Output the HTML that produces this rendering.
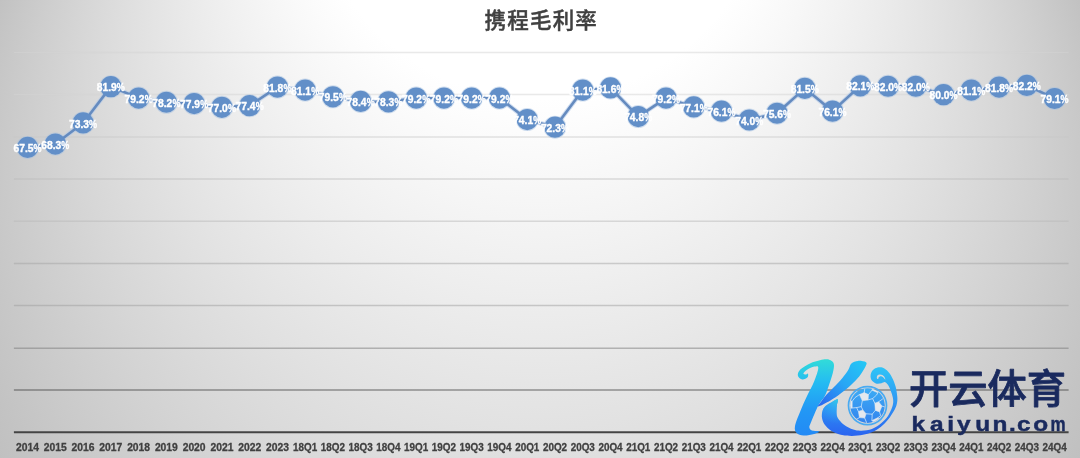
<!DOCTYPE html>
<html lang="zh-CN"><head><meta charset="utf-8"><title>携程毛利率</title>
<style>
html,body{margin:0;padding:0;background:#e6e6e6;}
body{width:1080px;height:458px;overflow:hidden;position:relative;font-family:"Liberation Sans","Noto Sans CJK SC",sans-serif;}
#chart{position:absolute;left:0;top:0;width:1080px;height:458px;display:block;}
</style></head><body>
<svg id="chart" width="1080" height="458" viewBox="0 0 1080 458">
<defs>
<radialGradient id="bg" gradientUnits="userSpaceOnUse" cx="540" cy="229" r="595.4" fx="540" fy="-365.8">
<stop offset="0" stop-color="#ffffff"/>
<stop offset="0.39" stop-color="#ffffff"/>
<stop offset="1" stop-color="#bfbfbf"/>
</radialGradient>
<linearGradient id="kg1" gradientUnits="userSpaceOnUse" x1="0" y1="359" x2="0" y2="436">
<stop offset="0" stop-color="#32dcd8"/><stop offset="0.3" stop-color="#24bcf2"/><stop offset="0.65" stop-color="#2298f5"/><stop offset="1" stop-color="#238af5"/>
</linearGradient>
<linearGradient id="kg2" gradientUnits="userSpaceOnUse" x1="862" y1="361" x2="822" y2="404">
<stop offset="0" stop-color="#24c6f5"/><stop offset="0.5" stop-color="#28a6f5"/><stop offset="1" stop-color="#2b6cf0"/>
</linearGradient>
<linearGradient id="kg3" gradientUnits="userSpaceOnUse" x1="0" y1="367" x2="0" y2="437">
<stop offset="0" stop-color="#2fc4f6"/><stop offset="0.45" stop-color="#2f9cf4"/><stop offset="1" stop-color="#2a62f0"/>
</linearGradient>
<radialGradient id="kg4" gradientUnits="userSpaceOnUse" cx="838" cy="398" r="26">
<stop offset="0" stop-color="#34d0e4" stop-opacity="1"/><stop offset="0.45" stop-color="#30b0f4" stop-opacity="0.7"/><stop offset="1" stop-color="#2f9cf4" stop-opacity="0"/>
</radialGradient>
<linearGradient id="kb" gradientUnits="userSpaceOnUse" x1="0" y1="388" x2="0" y2="423">
<stop offset="0" stop-color="#3cacf5"/><stop offset="1" stop-color="#3384ee"/>
</linearGradient>
<clipPath id="ballclip"><circle cx="867.5" cy="405.6" r="17.3"/></clipPath>
</defs>
<rect x="0" y="0" width="1080" height="458" fill="url(#bg)"/>
<g id="grid" fill="none" stroke-width="1.5" stroke-opacity="0.5">
<line x1="13.9" y1="52.50" x2="1068.6" y2="52.50" stroke="#d4d4d4"/>
<line x1="13.9" y1="94.50" x2="1068.6" y2="94.50" stroke="#d3d3d3"/>
<line x1="13.9" y1="136.90" x2="1068.6" y2="136.90" stroke="#c8c8c8"/>
<line x1="13.9" y1="179.05" x2="1068.6" y2="179.05" stroke="#bcbcbc"/>
<line x1="13.9" y1="221.35" x2="1068.6" y2="221.35" stroke="#bababa"/>
<line x1="13.9" y1="263.45" x2="1068.6" y2="263.45" stroke="#a3a3a3"/>
<line x1="13.9" y1="305.60" x2="1068.6" y2="305.60" stroke="#9d9d9d"/>
<line x1="13.9" y1="348.25" x2="1068.6" y2="348.25" stroke="#7a7a7a"/>
<line x1="13.9" y1="390.00" x2="1068.6" y2="390.00" stroke="#383838"/>
</g>
<line x1="13.9" y1="432.25" x2="1068.6" y2="432.25" stroke="#444444" stroke-width="2.2"/>
<text x="541.3" y="28.2" text-anchor="middle" font-family="'Liberation Sans','Noto Sans CJK SC',sans-serif" font-size="21.5" font-weight="500" letter-spacing="1.2" fill="#404040" stroke="#404040" stroke-width="0.45">携程毛利率</text>
<polyline points="27.60,147.42 55.36,144.04 83.11,122.95 110.87,86.66 138.63,98.06 166.38,102.27 194.14,103.54 221.90,107.34 249.66,105.65 277.41,87.09 305.17,90.04 332.93,96.79 360.68,101.43 388.44,101.85 416.20,98.06 443.96,98.06 471.71,98.06 499.47,98.06 527.23,119.57 554.98,127.17 582.74,90.04 610.50,87.93 638.25,116.62 666.01,98.06 693.77,106.92 721.53,111.13 749.28,119.99 777.04,113.24 804.80,88.35 832.55,111.13 860.31,85.82 888.07,86.24 915.82,86.24 943.58,94.68 971.34,90.04 999.10,87.09 1026.85,85.40 1054.61,98.48" fill="none" stroke="#b0c8e8" stroke-opacity="0.6" stroke-width="4.6" stroke-linejoin="round" stroke-linecap="round"/>
<g fill="#a4bfe2" fill-opacity="0.5">
<circle cx="27.60" cy="147.42" r="11.5"/>
<circle cx="55.36" cy="144.04" r="11.5"/>
<circle cx="83.11" cy="122.95" r="11.5"/>
<circle cx="110.87" cy="86.66" r="11.5"/>
<circle cx="138.63" cy="98.06" r="11.5"/>
<circle cx="166.38" cy="102.27" r="11.5"/>
<circle cx="194.14" cy="103.54" r="11.5"/>
<circle cx="221.90" cy="107.34" r="11.5"/>
<circle cx="249.66" cy="105.65" r="11.5"/>
<circle cx="277.41" cy="87.09" r="11.5"/>
<circle cx="305.17" cy="90.04" r="11.5"/>
<circle cx="332.93" cy="96.79" r="11.5"/>
<circle cx="360.68" cy="101.43" r="11.5"/>
<circle cx="388.44" cy="101.85" r="11.5"/>
<circle cx="416.20" cy="98.06" r="11.5"/>
<circle cx="443.96" cy="98.06" r="11.5"/>
<circle cx="471.71" cy="98.06" r="11.5"/>
<circle cx="499.47" cy="98.06" r="11.5"/>
<circle cx="527.23" cy="119.57" r="11.5"/>
<circle cx="554.98" cy="127.17" r="11.5"/>
<circle cx="582.74" cy="90.04" r="11.5"/>
<circle cx="610.50" cy="87.93" r="11.5"/>
<circle cx="638.25" cy="116.62" r="11.5"/>
<circle cx="666.01" cy="98.06" r="11.5"/>
<circle cx="693.77" cy="106.92" r="11.5"/>
<circle cx="721.53" cy="111.13" r="11.5"/>
<circle cx="749.28" cy="119.99" r="11.5"/>
<circle cx="777.04" cy="113.24" r="11.5"/>
<circle cx="804.80" cy="88.35" r="11.5"/>
<circle cx="832.55" cy="111.13" r="11.5"/>
<circle cx="860.31" cy="85.82" r="11.5"/>
<circle cx="888.07" cy="86.24" r="11.5"/>
<circle cx="915.82" cy="86.24" r="11.5"/>
<circle cx="943.58" cy="94.68" r="11.5"/>
<circle cx="971.34" cy="90.04" r="11.5"/>
<circle cx="999.10" cy="87.09" r="11.5"/>
<circle cx="1026.85" cy="85.40" r="11.5"/>
<circle cx="1054.61" cy="98.48" r="11.5"/>
</g>
<polyline points="27.60,147.42 55.36,144.04 83.11,122.95 110.87,86.66 138.63,98.06 166.38,102.27 194.14,103.54 221.90,107.34 249.66,105.65 277.41,87.09 305.17,90.04 332.93,96.79 360.68,101.43 388.44,101.85 416.20,98.06 443.96,98.06 471.71,98.06 499.47,98.06 527.23,119.57 554.98,127.17 582.74,90.04 610.50,87.93 638.25,116.62 666.01,98.06 693.77,106.92 721.53,111.13 749.28,119.99 777.04,113.24 804.80,88.35 832.55,111.13 860.31,85.82 888.07,86.24 915.82,86.24 943.58,94.68 971.34,90.04 999.10,87.09 1026.85,85.40 1054.61,98.48" fill="none" stroke="#658bbf" stroke-width="2.6" stroke-linejoin="round" stroke-linecap="round"/>
<g fill="#628fc8">
<circle cx="27.60" cy="147.42" r="10.6"/>
<circle cx="55.36" cy="144.04" r="10.6"/>
<circle cx="83.11" cy="122.95" r="10.6"/>
<circle cx="110.87" cy="86.66" r="10.6"/>
<circle cx="138.63" cy="98.06" r="10.6"/>
<circle cx="166.38" cy="102.27" r="10.6"/>
<circle cx="194.14" cy="103.54" r="10.6"/>
<circle cx="221.90" cy="107.34" r="10.6"/>
<circle cx="249.66" cy="105.65" r="10.6"/>
<circle cx="277.41" cy="87.09" r="10.6"/>
<circle cx="305.17" cy="90.04" r="10.6"/>
<circle cx="332.93" cy="96.79" r="10.6"/>
<circle cx="360.68" cy="101.43" r="10.6"/>
<circle cx="388.44" cy="101.85" r="10.6"/>
<circle cx="416.20" cy="98.06" r="10.6"/>
<circle cx="443.96" cy="98.06" r="10.6"/>
<circle cx="471.71" cy="98.06" r="10.6"/>
<circle cx="499.47" cy="98.06" r="10.6"/>
<circle cx="527.23" cy="119.57" r="10.6"/>
<circle cx="554.98" cy="127.17" r="10.6"/>
<circle cx="582.74" cy="90.04" r="10.6"/>
<circle cx="610.50" cy="87.93" r="10.6"/>
<circle cx="638.25" cy="116.62" r="10.6"/>
<circle cx="666.01" cy="98.06" r="10.6"/>
<circle cx="693.77" cy="106.92" r="10.6"/>
<circle cx="721.53" cy="111.13" r="10.6"/>
<circle cx="749.28" cy="119.99" r="10.6"/>
<circle cx="777.04" cy="113.24" r="10.6"/>
<circle cx="804.80" cy="88.35" r="10.6"/>
<circle cx="832.55" cy="111.13" r="10.6"/>
<circle cx="860.31" cy="85.82" r="10.6"/>
<circle cx="888.07" cy="86.24" r="10.6"/>
<circle cx="915.82" cy="86.24" r="10.6"/>
<circle cx="943.58" cy="94.68" r="10.6"/>
<circle cx="971.34" cy="90.04" r="10.6"/>
<circle cx="999.10" cy="87.09" r="10.6"/>
<circle cx="1026.85" cy="85.40" r="10.6"/>
<circle cx="1054.61" cy="98.48" r="10.6"/>
</g>
<g font-family="'Liberation Sans',sans-serif" font-size="11" font-weight="700" fill="#ffffff" stroke="#ffffff" stroke-width="0.4">
<text x="13.50" y="152.02"><tspan textLength="20.0" lengthAdjust="spacingAndGlyphs">67.5</tspan><tspan dx="0.1" textLength="8.0" lengthAdjust="spacingAndGlyphs">%</tspan></text>
<text x="41.26" y="148.64"><tspan textLength="20.0" lengthAdjust="spacingAndGlyphs">68.3</tspan><tspan dx="0.1" textLength="8.0" lengthAdjust="spacingAndGlyphs">%</tspan></text>
<text x="69.01" y="127.55"><tspan textLength="20.0" lengthAdjust="spacingAndGlyphs">73.3</tspan><tspan dx="0.1" textLength="8.0" lengthAdjust="spacingAndGlyphs">%</tspan></text>
<text x="96.77" y="91.26"><tspan textLength="20.0" lengthAdjust="spacingAndGlyphs">81.9</tspan><tspan dx="0.1" textLength="8.0" lengthAdjust="spacingAndGlyphs">%</tspan></text>
<text x="124.53" y="102.66"><tspan textLength="20.0" lengthAdjust="spacingAndGlyphs">79.2</tspan><tspan dx="0.1" textLength="8.0" lengthAdjust="spacingAndGlyphs">%</tspan></text>
<text x="152.28" y="106.87"><tspan textLength="20.0" lengthAdjust="spacingAndGlyphs">78.2</tspan><tspan dx="0.1" textLength="8.0" lengthAdjust="spacingAndGlyphs">%</tspan></text>
<text x="180.04" y="108.14"><tspan textLength="20.0" lengthAdjust="spacingAndGlyphs">77.9</tspan><tspan dx="0.1" textLength="8.0" lengthAdjust="spacingAndGlyphs">%</tspan></text>
<text x="207.80" y="111.94"><tspan textLength="20.0" lengthAdjust="spacingAndGlyphs">77.0</tspan><tspan dx="0.1" textLength="8.0" lengthAdjust="spacingAndGlyphs">%</tspan></text>
<text x="235.56" y="110.25"><tspan textLength="20.0" lengthAdjust="spacingAndGlyphs">77.4</tspan><tspan dx="0.1" textLength="8.0" lengthAdjust="spacingAndGlyphs">%</tspan></text>
<text x="263.31" y="91.69"><tspan textLength="20.0" lengthAdjust="spacingAndGlyphs">81.8</tspan><tspan dx="0.1" textLength="8.0" lengthAdjust="spacingAndGlyphs">%</tspan></text>
<text x="291.07" y="94.64"><tspan textLength="20.0" lengthAdjust="spacingAndGlyphs">81.1</tspan><tspan dx="0.1" textLength="8.0" lengthAdjust="spacingAndGlyphs">%</tspan></text>
<text x="318.83" y="101.39"><tspan textLength="20.0" lengthAdjust="spacingAndGlyphs">79.5</tspan><tspan dx="0.1" textLength="8.0" lengthAdjust="spacingAndGlyphs">%</tspan></text>
<text x="346.58" y="106.03"><tspan textLength="20.0" lengthAdjust="spacingAndGlyphs">78.4</tspan><tspan dx="0.1" textLength="8.0" lengthAdjust="spacingAndGlyphs">%</tspan></text>
<text x="374.34" y="106.45"><tspan textLength="20.0" lengthAdjust="spacingAndGlyphs">78.3</tspan><tspan dx="0.1" textLength="8.0" lengthAdjust="spacingAndGlyphs">%</tspan></text>
<text x="402.10" y="102.66"><tspan textLength="20.0" lengthAdjust="spacingAndGlyphs">79.2</tspan><tspan dx="0.1" textLength="8.0" lengthAdjust="spacingAndGlyphs">%</tspan></text>
<text x="429.86" y="102.66"><tspan textLength="20.0" lengthAdjust="spacingAndGlyphs">79.2</tspan><tspan dx="0.1" textLength="8.0" lengthAdjust="spacingAndGlyphs">%</tspan></text>
<text x="457.61" y="102.66"><tspan textLength="20.0" lengthAdjust="spacingAndGlyphs">79.2</tspan><tspan dx="0.1" textLength="8.0" lengthAdjust="spacingAndGlyphs">%</tspan></text>
<text x="485.37" y="102.66"><tspan textLength="20.0" lengthAdjust="spacingAndGlyphs">79.2</tspan><tspan dx="0.1" textLength="8.0" lengthAdjust="spacingAndGlyphs">%</tspan></text>
<text x="513.13" y="124.17"><tspan textLength="20.0" lengthAdjust="spacingAndGlyphs">74.1</tspan><tspan dx="0.1" textLength="8.0" lengthAdjust="spacingAndGlyphs">%</tspan></text>
<text x="540.88" y="131.77"><tspan textLength="20.0" lengthAdjust="spacingAndGlyphs">72.3</tspan><tspan dx="0.1" textLength="8.0" lengthAdjust="spacingAndGlyphs">%</tspan></text>
<text x="568.64" y="94.64"><tspan textLength="20.0" lengthAdjust="spacingAndGlyphs">81.1</tspan><tspan dx="0.1" textLength="8.0" lengthAdjust="spacingAndGlyphs">%</tspan></text>
<text x="596.40" y="92.53"><tspan textLength="20.0" lengthAdjust="spacingAndGlyphs">81.6</tspan><tspan dx="0.1" textLength="8.0" lengthAdjust="spacingAndGlyphs">%</tspan></text>
<text x="624.15" y="121.22"><tspan textLength="20.0" lengthAdjust="spacingAndGlyphs">74.8</tspan><tspan dx="0.1" textLength="8.0" lengthAdjust="spacingAndGlyphs">%</tspan></text>
<text x="651.91" y="102.66"><tspan textLength="20.0" lengthAdjust="spacingAndGlyphs">79.2</tspan><tspan dx="0.1" textLength="8.0" lengthAdjust="spacingAndGlyphs">%</tspan></text>
<text x="679.67" y="111.52"><tspan textLength="20.0" lengthAdjust="spacingAndGlyphs">77.1</tspan><tspan dx="0.1" textLength="8.0" lengthAdjust="spacingAndGlyphs">%</tspan></text>
<text x="707.43" y="115.73"><tspan textLength="20.0" lengthAdjust="spacingAndGlyphs">76.1</tspan><tspan dx="0.1" textLength="8.0" lengthAdjust="spacingAndGlyphs">%</tspan></text>
<text x="735.18" y="124.59"><tspan textLength="20.0" lengthAdjust="spacingAndGlyphs">74.0</tspan><tspan dx="0.1" textLength="8.0" lengthAdjust="spacingAndGlyphs">%</tspan></text>
<text x="762.94" y="117.84"><tspan textLength="20.0" lengthAdjust="spacingAndGlyphs">75.6</tspan><tspan dx="0.1" textLength="8.0" lengthAdjust="spacingAndGlyphs">%</tspan></text>
<text x="790.70" y="92.95"><tspan textLength="20.0" lengthAdjust="spacingAndGlyphs">81.5</tspan><tspan dx="0.1" textLength="8.0" lengthAdjust="spacingAndGlyphs">%</tspan></text>
<text x="818.45" y="115.73"><tspan textLength="20.0" lengthAdjust="spacingAndGlyphs">76.1</tspan><tspan dx="0.1" textLength="8.0" lengthAdjust="spacingAndGlyphs">%</tspan></text>
<text x="846.21" y="90.42"><tspan textLength="20.0" lengthAdjust="spacingAndGlyphs">82.1</tspan><tspan dx="0.1" textLength="8.0" lengthAdjust="spacingAndGlyphs">%</tspan></text>
<text x="873.97" y="90.84"><tspan textLength="20.0" lengthAdjust="spacingAndGlyphs">82.0</tspan><tspan dx="0.1" textLength="8.0" lengthAdjust="spacingAndGlyphs">%</tspan></text>
<text x="901.72" y="90.84"><tspan textLength="20.0" lengthAdjust="spacingAndGlyphs">82.0</tspan><tspan dx="0.1" textLength="8.0" lengthAdjust="spacingAndGlyphs">%</tspan></text>
<text x="929.48" y="99.28"><tspan textLength="20.0" lengthAdjust="spacingAndGlyphs">80.0</tspan><tspan dx="0.1" textLength="8.0" lengthAdjust="spacingAndGlyphs">%</tspan></text>
<text x="957.24" y="94.64"><tspan textLength="20.0" lengthAdjust="spacingAndGlyphs">81.1</tspan><tspan dx="0.1" textLength="8.0" lengthAdjust="spacingAndGlyphs">%</tspan></text>
<text x="985.00" y="91.69"><tspan textLength="20.0" lengthAdjust="spacingAndGlyphs">81.8</tspan><tspan dx="0.1" textLength="8.0" lengthAdjust="spacingAndGlyphs">%</tspan></text>
<text x="1012.75" y="90.00"><tspan textLength="20.0" lengthAdjust="spacingAndGlyphs">82.2</tspan><tspan dx="0.1" textLength="8.0" lengthAdjust="spacingAndGlyphs">%</tspan></text>
<text x="1040.51" y="103.08"><tspan textLength="20.0" lengthAdjust="spacingAndGlyphs">79.1</tspan><tspan dx="0.1" textLength="8.0" lengthAdjust="spacingAndGlyphs">%</tspan></text>
</g>
<g font-family="'Liberation Sans',sans-serif" font-size="11.2" font-weight="700" fill="#404040" stroke="#404040" stroke-width="0.3" text-anchor="middle">
<text x="27.60" y="451.4" textLength="23.0" lengthAdjust="spacingAndGlyphs">2014</text>
<text x="55.36" y="451.4" textLength="23.0" lengthAdjust="spacingAndGlyphs">2015</text>
<text x="83.11" y="451.4" textLength="23.0" lengthAdjust="spacingAndGlyphs">2016</text>
<text x="110.87" y="451.4" textLength="23.0" lengthAdjust="spacingAndGlyphs">2017</text>
<text x="138.63" y="451.4" textLength="23.0" lengthAdjust="spacingAndGlyphs">2018</text>
<text x="166.38" y="451.4" textLength="23.0" lengthAdjust="spacingAndGlyphs">2019</text>
<text x="194.14" y="451.4" textLength="23.0" lengthAdjust="spacingAndGlyphs">2020</text>
<text x="221.90" y="451.4" textLength="23.0" lengthAdjust="spacingAndGlyphs">2021</text>
<text x="249.66" y="451.4" textLength="23.0" lengthAdjust="spacingAndGlyphs">2022</text>
<text x="277.41" y="451.4" textLength="23.0" lengthAdjust="spacingAndGlyphs">2023</text>
<text x="305.17" y="451.4" textLength="24.2" lengthAdjust="spacingAndGlyphs">18Q1</text>
<text x="332.93" y="451.4" textLength="24.2" lengthAdjust="spacingAndGlyphs">18Q2</text>
<text x="360.68" y="451.4" textLength="24.2" lengthAdjust="spacingAndGlyphs">18Q3</text>
<text x="388.44" y="451.4" textLength="24.2" lengthAdjust="spacingAndGlyphs">18Q4</text>
<text x="416.20" y="451.4" textLength="24.2" lengthAdjust="spacingAndGlyphs">19Q1</text>
<text x="443.96" y="451.4" textLength="24.2" lengthAdjust="spacingAndGlyphs">19Q2</text>
<text x="471.71" y="451.4" textLength="24.2" lengthAdjust="spacingAndGlyphs">19Q3</text>
<text x="499.47" y="451.4" textLength="24.2" lengthAdjust="spacingAndGlyphs">19Q4</text>
<text x="527.23" y="451.4" textLength="24.2" lengthAdjust="spacingAndGlyphs">20Q1</text>
<text x="554.98" y="451.4" textLength="24.2" lengthAdjust="spacingAndGlyphs">20Q2</text>
<text x="582.74" y="451.4" textLength="24.2" lengthAdjust="spacingAndGlyphs">20Q3</text>
<text x="610.50" y="451.4" textLength="24.2" lengthAdjust="spacingAndGlyphs">20Q4</text>
<text x="638.25" y="451.4" textLength="24.2" lengthAdjust="spacingAndGlyphs">21Q1</text>
<text x="666.01" y="451.4" textLength="24.2" lengthAdjust="spacingAndGlyphs">21Q2</text>
<text x="693.77" y="451.4" textLength="24.2" lengthAdjust="spacingAndGlyphs">21Q3</text>
<text x="721.53" y="451.4" textLength="24.2" lengthAdjust="spacingAndGlyphs">21Q4</text>
<text x="749.28" y="451.4" textLength="24.2" lengthAdjust="spacingAndGlyphs">22Q1</text>
<text x="777.04" y="451.4" textLength="24.2" lengthAdjust="spacingAndGlyphs">22Q2</text>
<text x="804.80" y="451.4" textLength="24.2" lengthAdjust="spacingAndGlyphs">22Q3</text>
<text x="832.55" y="451.4" textLength="24.2" lengthAdjust="spacingAndGlyphs">22Q4</text>
<text x="860.31" y="451.4" textLength="24.2" lengthAdjust="spacingAndGlyphs">23Q1</text>
<text x="888.07" y="451.4" textLength="24.2" lengthAdjust="spacingAndGlyphs">23Q2</text>
<text x="915.82" y="451.4" textLength="24.2" lengthAdjust="spacingAndGlyphs">23Q3</text>
<text x="943.58" y="451.4" textLength="24.2" lengthAdjust="spacingAndGlyphs">23Q4</text>
<text x="971.34" y="451.4" textLength="24.2" lengthAdjust="spacingAndGlyphs">24Q1</text>
<text x="999.10" y="451.4" textLength="24.2" lengthAdjust="spacingAndGlyphs">24Q2</text>
<text x="1026.85" y="451.4" textLength="24.2" lengthAdjust="spacingAndGlyphs">24Q3</text>
<text x="1054.61" y="451.4" textLength="24.2" lengthAdjust="spacingAndGlyphs">24Q4</text>
</g>
<g id="logo">
<path d="M824.60,359.30C827.87,358.85 829.05,359.48 830.60,360.30C832.15,361.12 833.53,362.08 833.90,364.20C834.27,366.32 833.68,369.33 832.80,373.00C831.92,376.67 829.98,382.28 828.60,386.20C827.22,390.12 826.22,393.28 824.50,396.50C822.78,399.72 820.55,401.20 818.30,405.50C816.05,409.80 812.48,418.63 811.00,422.30C809.52,425.97 809.23,426.12 809.40,427.50C809.57,428.88 810.33,429.92 812.00,430.60C813.67,431.28 819.05,431.03 819.40,431.60C819.75,432.17 816.73,433.33 814.10,434.00C811.47,434.67 806.52,435.77 803.60,435.60C800.68,435.43 798.03,434.60 796.60,433.00C795.17,431.40 794.35,429.72 795.00,426.00C795.65,422.28 798.53,415.62 800.50,410.70C802.47,405.78 804.53,401.38 806.80,396.50C809.07,391.62 812.18,386.17 814.10,381.40C816.02,376.63 818.27,370.37 818.30,367.90C818.33,365.43 816.18,366.28 814.30,366.60C812.42,366.92 808.82,368.63 807.00,369.80C805.18,370.97 803.60,372.80 803.40,373.60C803.20,374.40 805.05,374.60 805.80,374.60C806.55,374.60 807.60,373.17 807.90,373.60C808.20,374.03 808.53,376.22 807.60,377.20C806.67,378.18 803.92,379.73 802.30,379.50C800.68,379.27 798.23,377.45 797.90,375.80C797.57,374.15 798.12,371.73 800.30,369.60C802.48,367.47 806.95,364.72 811.00,363.00C815.05,361.28 821.33,359.75 824.60,359.30Z" fill="url(#kg1)"/>
<path d="M826.60,394.60C828.67,392.27 831.40,389.73 834.00,387.00C836.60,384.27 839.83,381.03 842.20,378.20C844.57,375.37 846.67,372.47 848.20,370.00C849.73,367.53 849.77,364.92 851.40,363.40C853.03,361.88 855.57,361.08 858.00,360.90C860.43,360.72 864.77,361.33 866.00,362.30C867.23,363.27 866.53,364.35 865.40,366.70C864.27,369.05 861.60,373.35 859.20,376.40C856.80,379.45 854.10,382.13 851.00,385.00C847.90,387.87 844.03,391.00 840.60,393.60C837.17,396.20 834.13,398.43 830.40,400.60C826.67,402.77 819.67,406.53 818.20,406.60C816.73,406.67 820.20,403.00 821.60,401.00C823.00,399.00 824.53,396.93 826.60,394.60Z" fill="url(#kg2)"/>
<path d="M837.80,399.40C836.92,399.00 833.63,401.18 831.70,402.20C829.77,403.22 827.62,404.37 826.20,405.50C824.78,406.63 823.92,407.58 823.20,409.00C822.48,410.42 822.07,412.33 821.90,414.00C821.73,415.67 821.75,417.27 822.20,419.00C822.65,420.73 823.12,422.45 824.60,424.40C826.08,426.35 828.42,428.97 831.10,430.70C833.78,432.43 837.23,433.93 840.70,434.80C844.17,435.67 848.18,435.90 851.90,435.90C855.62,435.90 859.67,435.42 863.00,434.80C866.33,434.18 868.95,433.50 871.90,432.20C874.85,430.90 878.00,429.10 880.70,427.00C883.40,424.90 885.88,422.30 888.10,419.60C890.32,416.90 892.55,413.40 894.00,410.80C895.45,408.20 896.25,406.30 896.80,404.00C897.35,401.70 897.50,399.92 897.30,397.00C897.10,394.08 896.48,389.77 895.60,386.50C894.72,383.23 893.42,380.05 892.00,377.40C890.58,374.75 888.85,372.28 887.10,370.60C885.35,368.92 883.48,367.68 881.50,367.30C879.52,366.92 876.95,367.32 875.20,368.30C873.45,369.28 871.67,371.33 871.00,373.20C870.33,375.07 870.38,377.80 871.20,379.50C872.02,381.20 874.18,382.78 875.90,383.40C877.62,384.02 879.95,383.40 881.50,383.20C883.05,383.00 883.98,381.70 885.20,382.20C886.42,382.70 887.68,384.23 888.80,386.20C889.92,388.17 891.17,391.70 891.90,394.00C892.63,396.30 893.05,398.17 893.20,400.00C893.35,401.83 893.20,403.25 892.80,405.00C892.40,406.75 891.85,408.33 890.80,410.50C889.75,412.67 888.42,415.62 886.50,418.00C884.58,420.38 881.73,422.98 879.30,424.80C876.87,426.62 874.87,427.92 871.90,428.90C868.93,429.88 864.60,430.58 861.50,430.70C858.40,430.82 856.22,430.58 853.30,429.60C850.38,428.62 846.62,426.77 844.00,424.80C841.38,422.83 838.85,420.10 837.60,417.80C836.35,415.50 836.60,413.20 836.50,411.00C836.40,408.80 836.78,406.53 837.00,404.60C837.22,402.67 838.68,399.80 837.80,399.40Z M876.80,377.40C876.83,376.83 876.93,375.90 877.40,375.40C877.87,374.90 878.77,374.47 879.60,374.40C880.43,374.33 881.57,374.53 882.40,375.00C883.23,375.47 884.12,376.43 884.60,377.20C885.08,377.97 885.43,379.48 885.30,379.60C885.17,379.72 884.38,378.42 883.80,377.90C883.22,377.38 882.47,376.73 881.80,376.50C881.13,376.27 880.33,376.32 879.80,376.50C879.27,376.68 878.87,377.18 878.60,377.60C878.33,378.02 878.43,378.80 878.20,379.00C877.97,379.20 877.43,379.07 877.20,378.80C876.97,378.53 876.77,377.97 876.80,377.40Z" fill="url(#kg3)" fill-rule="evenodd"/>
<path d="M837.80,399.40C836.92,399.00 833.63,401.18 831.70,402.20C829.77,403.22 827.62,404.37 826.20,405.50C824.78,406.63 823.92,407.58 823.20,409.00C822.48,410.42 822.07,412.33 821.90,414.00C821.73,415.67 821.75,417.27 822.20,419.00C822.65,420.73 823.12,422.45 824.60,424.40C826.08,426.35 828.42,428.97 831.10,430.70C833.78,432.43 837.23,433.93 840.70,434.80C844.17,435.67 848.18,435.90 851.90,435.90C855.62,435.90 859.67,435.42 863.00,434.80C866.33,434.18 868.95,433.50 871.90,432.20C874.85,430.90 878.00,429.10 880.70,427.00C883.40,424.90 885.88,422.30 888.10,419.60C890.32,416.90 892.55,413.40 894.00,410.80C895.45,408.20 896.25,406.30 896.80,404.00C897.35,401.70 897.50,399.92 897.30,397.00C897.10,394.08 896.48,389.77 895.60,386.50C894.72,383.23 893.42,380.05 892.00,377.40C890.58,374.75 888.85,372.28 887.10,370.60C885.35,368.92 883.48,367.68 881.50,367.30C879.52,366.92 876.95,367.32 875.20,368.30C873.45,369.28 871.67,371.33 871.00,373.20C870.33,375.07 870.38,377.80 871.20,379.50C872.02,381.20 874.18,382.78 875.90,383.40C877.62,384.02 879.95,383.40 881.50,383.20C883.05,383.00 883.98,381.70 885.20,382.20C886.42,382.70 887.68,384.23 888.80,386.20C889.92,388.17 891.17,391.70 891.90,394.00C892.63,396.30 893.05,398.17 893.20,400.00C893.35,401.83 893.20,403.25 892.80,405.00C892.40,406.75 891.85,408.33 890.80,410.50C889.75,412.67 888.42,415.62 886.50,418.00C884.58,420.38 881.73,422.98 879.30,424.80C876.87,426.62 874.87,427.92 871.90,428.90C868.93,429.88 864.60,430.58 861.50,430.70C858.40,430.82 856.22,430.58 853.30,429.60C850.38,428.62 846.62,426.77 844.00,424.80C841.38,422.83 838.85,420.10 837.60,417.80C836.35,415.50 836.60,413.20 836.50,411.00C836.40,408.80 836.78,406.53 837.00,404.60C837.22,402.67 838.68,399.80 837.80,399.40Z" fill="url(#kg4)"/>
<circle cx="867.5" cy="405.6" r="19.0" fill="none" stroke="#48aaf2" stroke-width="1.7"/>
<circle cx="867.5" cy="405.6" r="17.3" fill="url(#kb)"/>
<g clip-path="url(#ballclip)">
<polygon points="859.4,394.6 864.2,392.6 868.5,394.6 868.1,399.9 862.3,400.8" fill="#e4e8ee" stroke="#e4e8ee" stroke-width="0.5" stroke-linejoin="round"/>
<polygon points="874.8,403.2 878.6,401.8 882.0,406.1 879.6,411.9 875.3,410.4" fill="#e4e8ee" stroke="#e4e8ee" stroke-width="0.5" stroke-linejoin="round"/>
<polygon points="858.4,411.4 862.8,409.9 866.1,413.8 864.7,418.1 859.4,417.6" fill="#e4e8ee" stroke="#e4e8ee" stroke-width="0.5" stroke-linejoin="round"/>
<polygon points="849.8,400.3 852.2,401.3 852.2,408.0 850.3,408.5" fill="#e4e8ee" stroke="#e4e8ee" stroke-width="0.5" stroke-linejoin="round"/>
<polygon points="871.9,420.5 878.1,417.6 879.1,419.1 873.8,422.4" fill="#e4e8ee" stroke="#e4e8ee" stroke-width="0.5" stroke-linejoin="round"/>
<polygon points="872.6,388.6 878.6,391.6 877.8,392.8 872.0,390.2" fill="#e4e8ee" stroke="#e4e8ee" stroke-width="0.5" stroke-linejoin="round"/>
<g fill="none" stroke="#cfe6fa" stroke-width="0.8" stroke-linecap="round">
<path d="M862.3,400.8L861.2,406.6L862.8,409.9M868.1,399.9L872.6,398.6L874.8,403.2M875.3,410.4L872.2,414.2L866.1,413.8M861.2,406.6L856.6,407.6L852.2,408.0M859.4,394.6L855.0,397.6L852.2,401.3M864.2,392.6L864.8,388.6M868.5,394.6L872.0,390.2M872.6,398.6L876.6,395.0L877.8,392.8M878.6,401.8L882.6,399.0M882.0,406.1L884.8,407.0M879.6,411.9L880.6,415.6L878.1,417.6M872.2,414.2L871.9,420.5M864.7,418.1L866.6,422.6M859.4,417.6L856.0,419.6M858.4,411.4L856.6,407.6"/>
</g></g>
<text x="908.9" y="403.0" font-family="'Liberation Sans','Noto Sans CJK SC',sans-serif" font-weight="500" font-size="39.5" fill="#1a2a5e" stroke="#1a2a5e" stroke-width="0.8" stroke-linejoin="round" textLength="157.2" lengthAdjust="spacingAndGlyphs">开云体育</text>
<text transform="translate(905,431.3) scale(1.22,1)" x="5.33 20.41 34.67 42.54 57.62 71.72 85.16 91.89 105.16 119.26" y="0" font-family="'Liberation Sans',sans-serif" font-weight="700" font-size="20" fill="#1a2a5e" stroke="#1a2a5e" stroke-width="0.45">kaiyun.co<tspan textLength="12.4" lengthAdjust="spacingAndGlyphs">m</tspan></text>
</g>
</svg>
</body></html>
